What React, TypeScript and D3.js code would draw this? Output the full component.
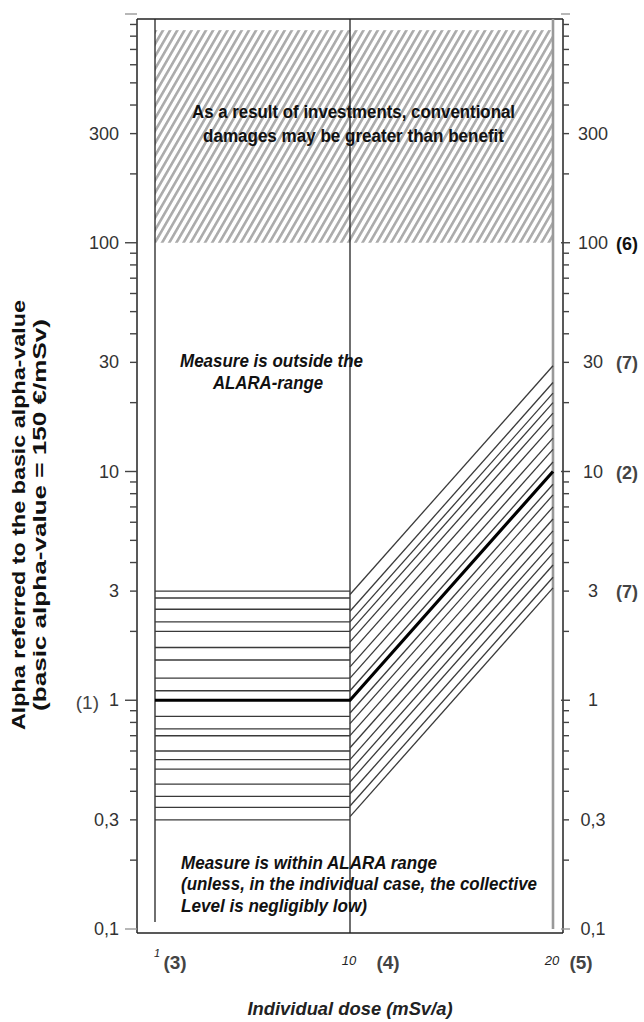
import React, { useEffect } from 'react';
import { line, scaleLinear, scaleLog } from 'd3';

// alpha axis (log), labels use the decimal comma of the original
const alphaLabels = [0.1, 0.3, 1, 3, 10, 30, 100, 300];
const alphaLabelText = ['0,1', '0,3', '1', '3', '10', '30', '100', '300'];
const leftNotes = [{ alpha: 1, text: '(1)' }];
const rightNotes = [
  { alpha: 100, text: '(6)' },
  { alpha: 30, text: '(7)' },
  { alpha: 10, text: '(2)' },
  { alpha: 3, text: '(7)' },
];

// dose axis
const doseTicks = [1, 10, 20];
const doseNotes = ['(3)', '(4)', '(5)'];

// zone where investments outweigh benefit
const hatchZone = { from: 100, to: 850 };

// horizontal band between dose 1 and 10
const flatBand = [
  3, 2.8, 2.5, 2.2, 2, 1.7, 1.5, 1.25, 1.1, 0.85, 0.75, 0.7, 0.6, 0.55, 0.5,
  0.43, 0.38, 0.34, 0.3,
];

// sloped band between dose 10 and 20 (alpha at 10, alpha at 20)
const slopeStart = [
  2.9, 2.45, 2.2, 2.0, 1.8, 1.6, 1.4, 1.25, 1.1, 0.88, 0.79, 0.7, 0.62, 0.55,
  0.49, 0.44, 0.39, 0.345, 0.31,
];
const slopeEnd = [
  29, 24.5, 22, 20, 18, 16, 14, 12.5, 11, 8.8, 7.9, 7.0, 6.2, 5.5, 4.9, 4.4,
  3.9, 3.45, 3.1,
];

// reference alpha curve
const refLine = [
  { dose: 1, alpha: 1 },
  { dose: 10, alpha: 1 },
  { dose: 20, alpha: 10 },
];

const topNote = [
  'As a result of investments, conventional',
  'damages may be greater than benefit',
];
const outsideNote = ['Measure is outside the', 'ALARA-range'];
const withinNote = [
  'Measure is within ALARA range',
  '(unless, in the individual case, the collective',
  'Level is negligibly low)',
];

const FONT = "'Liberation Sans', Arial, sans-serif";

const App: React.FC = () => {
  useEffect(() => {
    document.body.style.margin = '0';
  }, []);

  // frame
  const L = 137;
  const R = 563;
  const T = 19;
  const B = 933;

  const x = scaleLinear().domain([1, 10, 20]).range([155, 350, 553]);
  const y = scaleLog().domain([0.1, 1000]).range([929, 14]);

  const ticks = y.ticks();
  const isDecade = (v: number) =>
    Math.abs(Math.log10(v) - Math.round(Math.log10(v))) < 1e-9;

  const refPath = line<{ dose: number; alpha: number }>()
    .x((d) => x(d.dose))
    .y((d) => y(d.alpha));

  return (
    <svg
      width={644}
      height={1022}
      style={{ position: 'absolute', left: 0, top: 0, background: '#fff' }}
      fontFamily={FONT}
    >
      <defs>
        <pattern
          id="hatch"
          width={6.2}
          height={10}
          patternUnits="userSpaceOnUse"
          patternTransform="rotate(30)"
        >
          <rect width={2.6} height={10} fill="#ababab" />
        </pattern>
      </defs>

      {/* hatched zone */}
      <rect
        x={x(1)}
        y={y(hatchZone.to)}
        width={x(20) - x(1)}
        height={y(hatchZone.from) - y(hatchZone.to)}
        fill="url(#hatch)"
      />

      {/* frame */}
      <line x1={L} x2={R} y1={T} y2={T} stroke="#222" strokeWidth={1.5} />
      <line x1={L} x2={R} y1={B} y2={B} stroke="#222" strokeWidth={1.5} />
      <line x1={L} x2={L} y1={T} y2={B} stroke="#222" strokeWidth={1.5} />
      <line x1={R} x2={R} y1={T} y2={B} stroke="#222" strokeWidth={1.5} />

      {/* dose verticals */}
      <line x1={x(1)} x2={x(1)} y1={T} y2={B - 11} stroke="#222" strokeWidth={1.3} />
      <line x1={x(10)} x2={x(10)} y1={T} y2={B} stroke="#222" strokeWidth={1.3} />
      <line x1={x(20)} x2={x(20)} y1={T} y2={B - 4} stroke="#999" strokeWidth={2.6} />

      {/* left axis ticks */}
      {ticks.map((t) => (
        <line
          key={`lt${t}`}
          x1={L - (isDecade(t) ? 12 : 7)}
          x2={L}
          y1={y(t)}
          y2={y(t)}
          stroke={t === 0.1 || t === 1000 ? '#999' : '#444'}
          strokeWidth={1.4}
        />
      ))}
      {/* right axis ticks */}
      {ticks.map((t) => (
        <line
          key={`rt${t}`}
          x1={R - (isDecade(t) ? 2 : 0)}
          x2={R + (isDecade(t) ? 7 : 6)}
          y1={y(t)}
          y2={y(t)}
          stroke={t === 0.1 || t === 1000 ? '#999' : '#444'}
          strokeWidth={1.4}
        />
      ))}

      {/* tick labels */}
      {alphaLabels.map((v, i) => (
        <text
          key={`ll${v}`}
          x={119}
          y={y(v)}
          textAnchor="end"
          dominantBaseline="central"
          fontSize={18}
          fill="#333"
        >
          {alphaLabelText[i]}
        </text>
      ))}
      {alphaLabels.map((v, i) => (
        <text
          key={`rl${v}`}
          x={593}
          y={y(v)}
          textAnchor="middle"
          dominantBaseline="central"
          fontSize={18}
          fill="#333"
        >
          {alphaLabelText[i]}
        </text>
      ))}
      {leftNotes.map((n) => (
        <text
          key={`ln${n.alpha}`}
          x={99}
          y={y(n.alpha) + 2}
          textAnchor="end"
          dominantBaseline="central"
          fontSize={19}
          fill="#444"
        >
          {n.text}
        </text>
      ))}
      {rightNotes.map((n) => (
        <text
          key={`rn${n.alpha}`}
          x={627}
          y={y(n.alpha) + 1}
          textAnchor="middle"
          dominantBaseline="central"
          fontSize={18}
          fontWeight="bold"
          fill={n.alpha === 100 ? '#111' : '#444'}
        >
          {n.text}
        </text>
      ))}

      {/* dose tick labels */}
      {doseTicks.map((d, i) => (
        <g key={`dt${d}`}>
          <text
            x={x(d) + (i === 0 ? 2 : -1)}
            y={i === 0 ? 957 : 965}
            textAnchor="middle"
            fontSize={i === 0 ? 11 : 13}
            fontStyle="italic"
            fill="#222"
          >
            {d}
          </text>
          <text
            x={x(d) + (i === 0 ? 20 : i === 1 ? 38 : 28)}
            y={969}
            textAnchor="middle"
            fontSize={19}
            fontWeight="bold"
            fill="#444"
          >
            {doseNotes[i]}
          </text>
        </g>
      ))}

      {/* flat band */}
      {flatBand.map((a) => (
        <line
          key={`fb${a}`}
          x1={x(1)}
          x2={x(10)}
          y1={y(a)}
          y2={y(a)}
          stroke="#3a3a3a"
          strokeWidth={1.4}
        />
      ))}
      {/* sloped band */}
      {slopeStart.map((a, i) => (
        <line
          key={`sb${a}`}
          x1={x(10)}
          x2={x(20)}
          y1={y(a)}
          y2={y(slopeEnd[i])}
          stroke="#3a3a3a"
          strokeWidth={1.3}
        />
      ))}
      {/* reference alpha */}
      <path
        d={refPath(refLine) ?? ''}
        fill="none"
        stroke="#000"
        strokeWidth={3.2}
        strokeLinejoin="miter"
      />

      {/* annotations */}
      <g fontWeight="bold" fontSize={18} fill="#111" textAnchor="middle">
        <text x={353.5} y={118} textLength={323} lengthAdjust="spacingAndGlyphs">
          {topNote[0]}
        </text>
        <text x={353.5} y={142} textLength={301} lengthAdjust="spacingAndGlyphs">
          {topNote[1]}
        </text>
      </g>
      <g fontWeight="bold" fontStyle="italic" fontSize={18} fill="#111" textAnchor="middle">
        <text x={271.5} y={367} textLength={183} lengthAdjust="spacingAndGlyphs">
          {outsideNote[0]}
        </text>
        <text x={268} y={389} textLength={110} lengthAdjust="spacingAndGlyphs">
          {outsideNote[1]}
        </text>
      </g>
      <g fontWeight="bold" fontStyle="italic" fontSize={18} fill="#111">
        <text x={181} y={869} textLength={256} lengthAdjust="spacingAndGlyphs">
          {withinNote[0]}
        </text>
        <text x={181} y={890} textLength={356} lengthAdjust="spacingAndGlyphs">
          {withinNote[1]}
        </text>
        <text x={181} y={912} textLength={186} lengthAdjust="spacingAndGlyphs">
          {withinNote[2]}
        </text>
      </g>

      {/* axis titles */}
      <text
        x={350}
        y={1015}
        textAnchor="middle"
        fontWeight="bold"
        fontStyle="italic"
        fontSize={18}
        fill="#222"
        textLength={205}
        lengthAdjust="spacingAndGlyphs"
      >
        Individual dose (mSv/a)
      </text>
      <g transform="translate(25,515) rotate(-90)" fontWeight="bold" fontSize={18} fill="#111" textAnchor="middle">
        <text x={0} y={0} textLength={430} lengthAdjust="spacingAndGlyphs">
          Alpha referred to the basic alpha-value
        </text>
        <text x={0} y={21} textLength={392} lengthAdjust="spacingAndGlyphs">
          (basic alpha-value = 150  €/mSv)
        </text>
      </g>
    </svg>
  );
};

export default App;
